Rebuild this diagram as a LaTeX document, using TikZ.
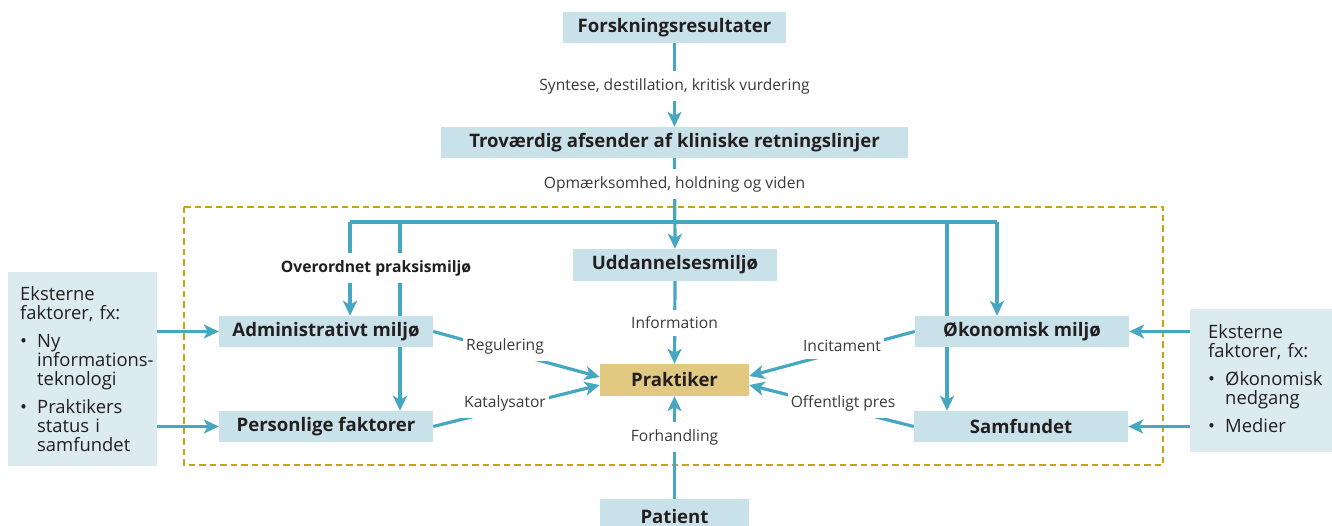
\documentclass[tikz,border=0pt]{standalone}
\usepackage{fontspec}
\setmainfont{Open Sans}
\usetikzlibrary{arrows.meta}
\definecolor{lineteal}{HTML}{46A8C0}
\definecolor{boxblue}{HTML}{C9E2EA}
\definecolor{extblue}{HTML}{DBEBF0}
\definecolor{praktgold}{HTML}{E2C981}
\definecolor{dashgold}{HTML}{C9A412}
\definecolor{txtdark}{HTML}{231F20}
\definecolor{txtgrey}{HTML}{3A3A3A}
\pgfdeclarelayer{bg}
\pgfsetlayers{bg,main}
\newcommand{\extitem}[1]{\par\vspace{9pt}\noindent\hangindent=17pt\hangafter=1\makebox[17pt][l]{\textbullet}#1\par}
\begin{document}
\begin{tikzpicture}[x=1pt,y=-1pt,
  box/.style={fill=boxblue, inner sep=0pt, minimum height=31pt, text=txtdark,
    font=\bfseries\fontsize{18.6}{21}\selectfont},
  extbox/.style={fill=extblue, inner sep=0pt},
  exttext/.style={anchor=north west, inner sep=0pt, text width=150pt, align=left,
    text=txtdark, font=\fontsize{18.4}{19}\selectfont},
  lbl/.style={fill=white, text=txtgrey, inner xsep=3pt, inner ysep=7pt,
    font=\fontsize{15.6}{18}\selectfont},
  conn/.style={draw=lineteal, line width=3.2pt},
  arr/.style={conn, -{Stealth[length=15pt,width=14pt,inset=4pt]}},
]
\useasboundingbox (0,0) rectangle (1332,526);

% main boxes
\node[box, minimum width=223pt] (forsk) at (674.5,27.5) {Forskningsresultater};
\node[box, minimum width=467pt] (trov) at (674.5,142.5) {Troværdig afsender af kliniske retningslinjer};
\node[box, minimum width=204pt, minimum height=32pt] (udd) at (675,265) {Uddannelsesmiljø};
\node[box, fill=praktgold, minimum width=149pt, minimum height=32pt] (prak) at (674.5,380) {Praktiker};
\node[box, minimum width=149pt, minimum height=36pt] (patient) at (674.5,517) {Patient};
\node[box, minimum width=214pt] (adm) at (326,331.5) {Administrativt miljø};
\node[box, minimum width=214pt] (pers) at (326,426.5) {Personlige faktorer};
\node[box, minimum width=214pt] (oko) at (1022,331.5) {Økonomisk miljø};
\node[box, minimum width=214pt] (samf) at (1021,426.5) {Samfundet};

% external boxes
\node[extbox, minimum width=149pt, minimum height=194pt] (extL) at (82.5,369) {};
\node[extbox, minimum width=142pt, minimum height=143pt] (extR) at (1261,380.5) {};
\node[exttext] (extLt) at (20,286) {Eksterne\newline faktorer, fx:\extitem{Ny\newline informations-\newline teknologi}\extitem{Praktikers\newline status i\newline samfundet}};
\node[exttext, text width=122pt] (extRt) at (1208,324) {Eksterne\newline faktorer, fx:\extitem{Økonomisk\newline nedgang}\extitem{Medier}};

% bus coordinates
\coordinate (b1) at (350,222);
\coordinate (b2) at (400,222);
\coordinate (b3) at (947,222);
\coordinate (b4) at (997,222);

\begin{pgfonlayer}{bg}
  \draw[dashgold, line width=2.8pt, dash pattern=on 6.5pt off 4pt] (184,207) rectangle (1163,465);
  \draw[arr] (forsk.south) -- (trov.north);
  \draw[arr] (trov.south) -- (udd.north);
  \draw[conn] (b1) -- (b4);
  \draw[arr] (b1) -- (b1 |- adm.north);
  \draw[arr] (b2) -- (b2 |- pers.north);
  \draw[arr] (b3) -- (b3 |- samf.north);
  \draw[arr] (b4) -- (b4 |- oko.north);
  \draw[arr] (udd.south) -- (prak.north);
  \draw[arr] (patient.north) -- (prak.south);
  \draw[arr] (adm.east) -- ([yshift=3pt]prak.west);
  \draw[arr] (pers.east) -- ([yshift=-5pt]prak.west);
  \draw[arr] (oko.west) -- ([yshift=4pt]prak.east);
  \draw[arr] (samf.west) -- ([yshift=-5pt]prak.east);
  \draw[arr] (extL.east |- adm.west) -- (adm.west);
  \draw[arr] (extL.east |- pers.west) -- (pers.west);
  \draw[arr] (extR.west |- oko.east) -- (oko.east);
  \draw[arr] (extR.west |- samf.east) -- (samf.east);
\end{pgfonlayer}

% labels
\node[lbl] (l1) at (674.5,86) {Syntese, destillation, kritisk vurdering};
\node[lbl] (l2) at (674.5,184) {Opmærksomhed, holdning og viden};
\node[lbl, text=txtdark, inner xsep=2pt, font=\bfseries\fontsize{15.7}{18}\selectfont] (l3) at (376,268) {Overordnet praksismiljø};
\node[lbl] (l4) at (674.5,323) {Information};
\node[lbl] (l5) at (505,346) {Regulering};
\node[lbl] (l6) at (505,403) {Katalysator};
\node[lbl] (l7) at (842,346) {Incitament};
\node[lbl] (l8) at (843,403) {Offentligt pres};
\node[lbl] (l9) at (674.5,437) {Forhandling};
\end{tikzpicture}
\end{document}
